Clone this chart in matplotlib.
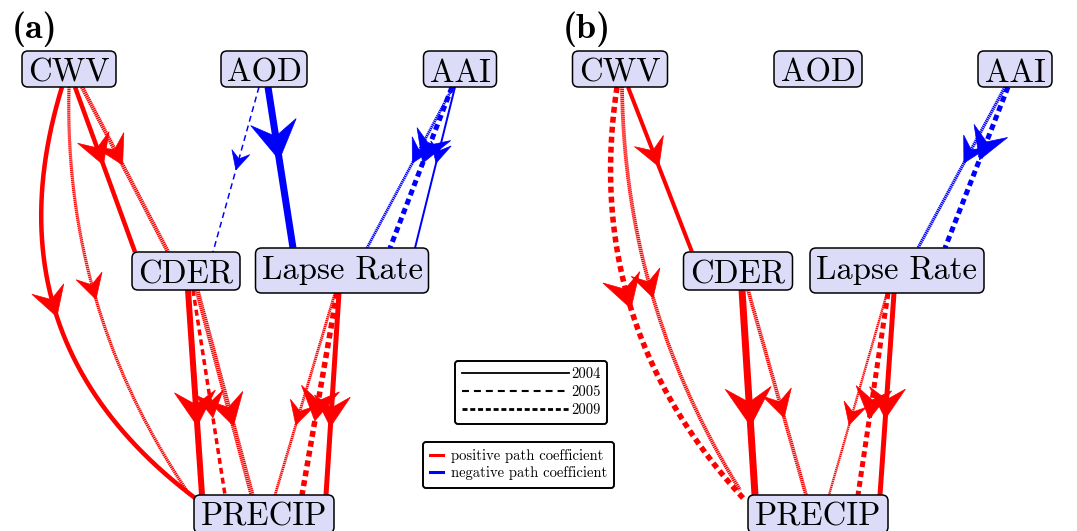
import matplotlib.pyplot as plt
import numpy as np
from matplotlib.patches import FancyBboxPatch, Polygon
from matplotlib.lines import Line2D

plt.rcParams['lines.scale_dashes'] = False

# nodes of the path diagram
nodes = ['CWV', 'AOD', 'AAI', 'CDER', 'Lapse Rate', 'PRECIP']
node_x_a = [69, 264, 460, 186, 342, 264]
node_x_b = [620, 818, 1015, 738, 897, 818]
node_top = [51, 51, 51, 252, 248, 495]
node_h = [36, 36, 36, 38, 45, 38]
node_w_a = [94, 86, 73, 108, 173, 140]
node_w_b = [95, 88, 74, 109, 174, 140]

# (source, target, year, path coefficient)
paths_a = [
    ('CWV', 'PRECIP', 2004, 0.45),
    ('CWV', 'PRECIP', 2009, 0.32),
    ('CWV', 'CDER', 2004, 0.45),
    ('CWV', 'CDER', 2009, 0.42),
    ('AOD', 'CDER', 2005, -0.15),
    ('AOD', 'Lapse Rate', 2004, -0.70),
    ('AAI', 'Lapse Rate', 2009, -0.28),
    ('AAI', 'Lapse Rate', 2005, -0.50),
    ('AAI', 'Lapse Rate', 2004, -0.20),
    ('CDER', 'PRECIP', 2004, 0.60),
    ('CDER', 'PRECIP', 2005, 0.35),
    ('CDER', 'PRECIP', 2009, 0.50),
    ('Lapse Rate', 'PRECIP', 2009, 0.28),
    ('Lapse Rate', 'PRECIP', 2005, 0.55),
    ('Lapse Rate', 'PRECIP', 2004, 0.50),
]
paths_b = [
    ('CWV', 'PRECIP', 2005, 0.55),
    ('CWV', 'PRECIP', 2009, 0.38),
    ('CWV', 'CDER', 2004, 0.40),
    ('AAI', 'Lapse Rate', 2009, -0.32),
    ('AAI', 'Lapse Rate', 2005, -0.50),
    ('CDER', 'PRECIP', 2004, 0.70),
    ('CDER', 'PRECIP', 2009, 0.38),
    ('Lapse Rate', 'PRECIP', 2009, 0.24),
    ('Lapse Rate', 'PRECIP', 2005, 0.50),
    ('Lapse Rate', 'PRECIP', 2004, 0.50),
]

# edge layout: start dx, end dx, end dy, bend, arrow position
geom_a = [(-7, -69, 3, -0.35, 0.5), (0, -77, -4, -0.16, 0.5),
          (6, -51, 0, 0, 0.47), (13, -18, 0, 0, 0.47),
          (-5, 27, 0, 0, 0.5), (4, -49, 0, 0, 0.45),
          (-7, 25, 0, 0, 0.47), (-8, 48, 0, 0, 0.47), (-5, 73, 0, 0, 0.47),
          (2, -62, 0, 0, 0.66), (7, -39, 0, 0, 0.62), (11, -12, 0, 0, 0.66),
          (-7, 11, 0, 0, 0.65), (-5, 38, 0, 0, 0.63), (-3, 62, 0, 0, 0.66)]
geom_b = [(-3, -75, 3, -0.24, 0.5), (2, -78, -5, -0.14, 0.5),
          (8, -46, 0, 0, 0.48),
          (-10, 21, 0, 0, 0.47), (-7, 48, 0, 0, 0.45),
          (4, -63, 0, 0, 0.66), (10, -12, 0, 0, 0.62),
          (-10, 11, 0, 0, 0.65), (-9, 40, 0, 0, 0.62), (-3, 62, 0, 0, 0.62)]

year_dash = {2004: None, 2005: (4.3, 2.9), 2009: (1.0, 0.45)}

fig = plt.figure(figsize=(10.77, 5.31), dpi=100)
ax = fig.add_axes([0, 0, 1, 1])
ax.set_xlim(0, 1077)
ax.set_ylim(531, 0)
ax.axis('off')


def draw_edge(p0, p1, bend, apos, color, lw_px, dashes):
    p0 = np.array(p0, float)
    p1 = np.array(p1, float)
    m = (p0 + p1) / 2
    c = np.array([m[0] + bend * (p1[1] - p0[1]), m[1] - bend * (p1[0] - p0[0])])
    t = np.linspace(0, 1, 200)[:, None]
    pts = (1 - t) ** 2 * p0 + 2 * (1 - t) * t * c + t ** 2 * p1
    ls = '-' if dashes is None else (0, dashes)
    ax.plot(pts[:, 0], pts[:, 1], color=color, lw=lw_px * 0.72, ls=ls,
            solid_capstyle='butt', dash_capstyle='butt', zorder=2)
    s = np.concatenate([[0], np.cumsum(np.hypot(*np.diff(pts, axis=0).T))])
    i = np.searchsorted(s, apos * s[-1])
    i = min(max(i, 1), len(pts) - 2)
    tip = pts[i]
    u = pts[i + 1] - pts[i - 1]
    u = u / np.hypot(*u)
    n = np.array([-u[1], u[0]])
    L = 13 + 3.6 * lw_px
    W = 5.5 + 2.5 * lw_px
    poly = [tip, tip - L * u + W * n, tip - 0.62 * L * u, tip - L * u - W * n]
    ax.add_patch(Polygon(poly, closed=True, fc=color, ec=color, lw=0.5, zorder=2.5))


def draw_panel(node_x, node_w, paths, geom, label):
    for name, x, w, top, h in zip(nodes, node_x, node_w, node_top, node_h):
        ax.add_patch(FancyBboxPatch((x - w / 2, top), w, h,
                                    boxstyle='round,pad=0,rounding_size=6',
                                    fc='#dcdcf9', ec='black', lw=1.1, zorder=3))
        ax.text(x, top + 31, name, ha='center', va='baseline',
                fontfamily='cmr10', fontsize=23.5, zorder=4)
    for (src, dst, year, coef), (dx0, dx1, dy1, bend, apos) in zip(paths, geom):
        i, j = nodes.index(src), nodes.index(dst)
        p0 = (node_x[i] + dx0, node_top[i] + node_h[i])
        p1 = (node_x[j] + dx1, node_top[j] + dy1)
        color = 'red' if coef > 0 else 'blue'
        draw_edge(p0, p1, bend, apos, color, abs(coef) * 10, year_dash[year])
    ax.text(node_x[0] - 57, 38, label, ha='left', va='baseline',
            fontfamily='cmb10', fontsize=26)


draw_panel(node_x_a, node_w_a, paths_a, geom_a, '(a)')
draw_panel(node_x_b, node_w_b, paths_b, geom_b, '(b)')

# legends
year_handles = [
    Line2D([], [], color='black', lw=1.3),
    Line2D([], [], color='black', lw=1.5, ls=(0, (5, 3.6))),
    Line2D([], [], color='black', lw=2.0, ls=(0, (3.6, 2))),
]
leg1 = ax.legend(year_handles, ['2004', '2005', '2009'],
                 loc='upper left', bbox_to_anchor=(455 / 1077, 1 - 361 / 531),
                 bbox_transform=fig.transFigure, borderaxespad=0,
                 prop={'family': 'cmr10', 'size': 10.5}, handlelength=7.4,
                 handletextpad=0.1, labelspacing=0.3, borderpad=0.45,
                 frameon=True, fancybox=True, framealpha=1, edgecolor='black')
leg1.get_frame().set_linewidth(1.4)
ax.add_artist(leg1)

sign_handles = [
    Line2D([], [], color='red', lw=2.2),
    Line2D([], [], color='blue', lw=2.2),
]
leg2 = ax.legend(sign_handles, ['positive path coefficient', 'negative path coefficient'],
                 loc='upper left', bbox_to_anchor=(423 / 1077, 1 - 442 / 531),
                 bbox_transform=fig.transFigure, borderaxespad=0,
                 prop={'family': 'cmr10', 'size': 10.5}, handlelength=0.9,
                 handletextpad=0.5, labelspacing=0.2, borderpad=0.5,
                 frameon=True, fancybox=True, framealpha=1, edgecolor='black')
leg2.get_frame().set_linewidth(1.4)

fig.savefig('out.png', dpi=100)
